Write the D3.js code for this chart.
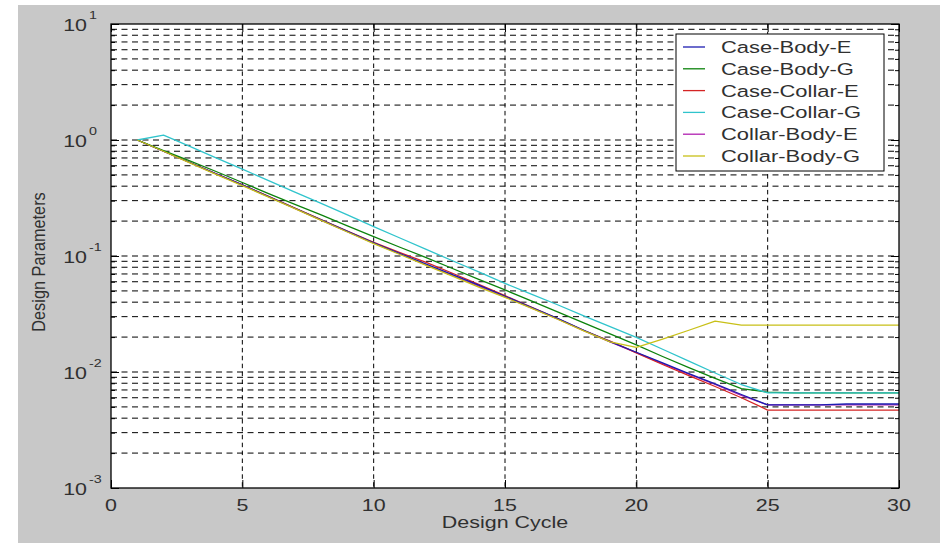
<!DOCTYPE html>
<html>
<head>
<meta charset="utf-8">
<script src="https://cdn.jsdelivr.net/npm/d3@7/dist/d3.min.js"></script>
<style>
  body { margin: 0; background: #ffffff; }
</style>
</head>
<body>
<div id="chart"></div>
<script>
'use strict';

// data, one value per design cycle
const cycles = [1, 2, 3, 4, 5, 6, 7, 8, 9, 10, 11, 12, 13, 14, 15, 16, 17, 18, 19, 20, 21, 22, 23, 24, 25, 26, 27, 28, 29, 30];

const case_body_e = [1.0, 0.80, 0.64, 0.51, 0.41, 0.325, 0.258, 0.205, 0.163, 0.130, 0.105, 0.085, 0.069, 0.056, 0.045, 0.036, 0.029, 0.0229, 0.0183, 0.0148, 0.0120, 0.0097, 0.0079, 0.0064, 0.0052, 0.0052, 0.0052, 0.0053, 0.0053, 0.0053];
const case_body_g = [1.0, 0.81, 0.66, 0.535, 0.43, 0.345, 0.279, 0.226, 0.182, 0.147, 0.119, 0.097, 0.078, 0.063, 0.051, 0.041, 0.033, 0.0265, 0.0213, 0.0171, 0.0136, 0.0109, 0.0088, 0.0072, 0.0067, 0.0066, 0.0066, 0.0066, 0.0066, 0.0066];
const case_collar_e = [1.0, 0.80, 0.64, 0.51, 0.41, 0.326, 0.259, 0.206, 0.164, 0.131, 0.107, 0.088, 0.071, 0.057, 0.0455, 0.0362, 0.0288, 0.0228, 0.0185, 0.0146, 0.0116, 0.0093, 0.0075, 0.0060, 0.0047, 0.0047, 0.0047, 0.0047, 0.0047, 0.0047];
const case_collar_g = [1.0, 1.10, 0.88, 0.70, 0.56, 0.447, 0.356, 0.284, 0.226, 0.179, 0.143, 0.114, 0.091, 0.073, 0.058, 0.047, 0.038, 0.0305, 0.0246, 0.0199, 0.0157, 0.0124, 0.0098, 0.0078, 0.0066, 0.0066, 0.0066, 0.0066, 0.0066, 0.0066];
const collar_body_e = [1.0, 0.80, 0.64, 0.51, 0.41, 0.324, 0.257, 0.204, 0.162, 0.129, 0.104, 0.084, 0.068, 0.055, 0.0445, 0.0357, 0.0287, 0.0227, 0.0182, 0.0147, 0.0118, 0.0096, 0.0078, 0.0063, 0.0052, 0.0052, 0.0052, 0.0052, 0.0052, 0.0052];
const collar_body_g = [1.0, 0.80, 0.635, 0.505, 0.405, 0.322, 0.256, 0.203, 0.161, 0.128, 0.103, 0.083, 0.067, 0.054, 0.044, 0.0355, 0.0285, 0.0226, 0.0182, 0.0163, 0.0192, 0.0229, 0.0275, 0.0254, 0.0254, 0.0254, 0.0254, 0.0254, 0.0254, 0.0254];

const series_names = ['Case-Body-E', 'Case-Body-G', 'Case-Collar-E', 'Case-Collar-G', 'Collar-Body-E', 'Collar-Body-G'];
const series_values = [case_body_e, case_body_g, case_collar_e, case_collar_g, collar_body_e, collar_body_g];
const series_colors = ['#1c1cb0', '#0c820c', '#d42424', '#30c4cc', '#b020b0', '#c8c018'];
// order the lines are drawn in (last on top)
const draw_order = [4, 2, 0, 1, 3, 5];

const x_ticks = [0, 5, 10, 15, 20, 25, 30];
const y_decades = [1e-3, 1e-2, 1e-1, 1e0, 1e1];
const y_exponents = ['-3', '-2', '-1', '0', '1'];

// layout
const dimensions = {
  width: 945,
  height: 543,
  margin: { top: 24, bottom: 55, left: 111, right: 46 }
}
dimensions.ctrWidth = dimensions.width - dimensions.margin.left - dimensions.margin.right
dimensions.ctrHeight = dimensions.height - dimensions.margin.top - dimensions.margin.bottom

const font = '"Liberation Sans", Arial, sans-serif'
const text_color = '#303030'
const stretch = 1.3   // the original text is wide, stretch it horizontally

const svg_el = d3.select('#chart')
  .append('svg')
  .attr('width', dimensions.width)
  .attr('height', dimensions.height)

// figure background
svg_el.append('rect')
  .attr('x', 18)
  .attr('y', 5)
  .attr('width', 922)
  .attr('height', 538)
  .attr('fill', '#c8c8c8')

const chart_g = svg_el.append('g')
  .attr('transform', `translate(${dimensions.margin.left}, ${dimensions.margin.top})`)

chart_g.append('rect')
  .attr('width', dimensions.ctrWidth)
  .attr('height', dimensions.ctrHeight)
  .attr('fill', '#ffffff')

// scales
const xScale = d3.scaleLinear()
  .domain([0, 30])
  .range([0, dimensions.ctrWidth])

const yScale = d3.scaleLog()
  .domain([1e-3, 1e1])
  .range([dimensions.ctrHeight, 0])

// minor log positions 1..9 x each decade
const y_minor = []
y_decades.slice(0, -1).forEach(d => {
  for (let k = 1; k <= 9; k++) y_minor.push(k * d)
})
y_minor.push(1e1)

// grid lines
chart_g.append('g')
  .selectAll('line')
  .data(y_minor.filter(v => v > 1e-3 && v < 1e1))
  .join('line')
  .attr('x1', 0)
  .attr('x2', dimensions.ctrWidth)
  .attr('y1', d => yScale(d))
  .attr('y2', d => yScale(d))
  .attr('stroke', '#000')
  .attr('stroke-width', 1)
  .attr('stroke-dasharray', '6,4.5')

chart_g.append('g')
  .selectAll('line')
  .data(x_ticks.filter(v => v > 0 && v < 30))
  .join('line')
  .attr('x1', d => xScale(d))
  .attr('x2', d => xScale(d))
  .attr('y1', 0)
  .attr('y2', dimensions.ctrHeight)
  .attr('stroke', '#000')
  .attr('stroke-width', 1)
  .attr('stroke-dasharray', '4.5,3.4')

// axes with inside ticks
const tick_axes = [
  chart_g.append('g').attr('transform', `translate(0, ${dimensions.ctrHeight})`)
    .call(d3.axisBottom(xScale).tickValues(x_ticks).tickSize(-8).tickFormat('')),
  chart_g.append('g')
    .call(d3.axisTop(xScale).tickValues(x_ticks).tickSize(-8).tickFormat('')),
  chart_g.append('g')
    .call(d3.axisLeft(yScale).tickValues(y_minor).tickSize(-4).tickFormat('')),
  chart_g.append('g')
    .call(d3.axisLeft(yScale).tickValues(y_decades).tickSize(-8).tickFormat('')),
  chart_g.append('g').attr('transform', `translate(${dimensions.ctrWidth}, 0)`)
    .call(d3.axisRight(yScale).tickValues(y_minor).tickSize(-4).tickFormat('')),
  chart_g.append('g').attr('transform', `translate(${dimensions.ctrWidth}, 0)`)
    .call(d3.axisRight(yScale).tickValues(y_decades).tickSize(-8).tickFormat(''))
]
tick_axes.forEach(g => {
  g.select('.domain').remove()
  g.selectAll('line').attr('stroke', '#000')
})

// data lines
const line = d3.line()
  .x((d, i) => xScale(cycles[i]))
  .y(d => yScale(d))

chart_g.append('g')
  .selectAll('path')
  .data(draw_order)
  .join('path')
  .attr('d', idx => line(series_values[idx]))
  .attr('fill', 'none')
  .attr('stroke', idx => series_colors[idx])
  .attr('stroke-width', 1.3)
  .attr('stroke-linejoin', 'round')

// box
chart_g.append('rect')
  .attr('width', dimensions.ctrWidth)
  .attr('height', dimensions.ctrHeight)
  .attr('fill', 'none')
  .attr('stroke', '#000')
  .attr('stroke-width', 1.3)

// x tick labels
chart_g.append('g')
  .selectAll('text')
  .data(x_ticks)
  .join('text')
  .attr('transform', d => `translate(${xScale(d)}, ${dimensions.ctrHeight + 23}) scale(${stretch},1)`)
  .attr('text-anchor', 'middle')
  .style('font-family', font)
  .style('font-size', '16.5px')
  .style('fill', text_color)
  .text(d => d)

// y tick labels 10^n
const y_label_g = chart_g.append('g')
  .selectAll('g')
  .data(y_decades)
  .join('g')
  .attr('transform', d => `translate(-24, ${yScale(d)})`)

y_label_g.append('text')
  .attr('transform', `translate(0, 6.5) scale(${stretch},1)`)
  .attr('text-anchor', 'end')
  .style('font-family', font)
  .style('font-size', '16.5px')
  .style('fill', text_color)
  .text('10')

y_label_g.append('text')
  .attr('transform', `translate(2, -5) scale(${stretch},1)`)
  .attr('text-anchor', 'start')
  .style('font-family', font)
  .style('font-size', '11px')
  .style('fill', text_color)
  .text((d, i) => y_exponents[i])

// axis titles
svg_el.append('text')
  .attr('transform', `translate(${dimensions.margin.left + dimensions.ctrWidth / 2}, 528) scale(${stretch},1)`)
  .attr('text-anchor', 'middle')
  .style('font-family', font)
  .style('font-size', '16.5px')
  .style('fill', text_color)
  .text('Design Cycle')

svg_el.append('text')
  .attr('transform', `translate(45, 262) rotate(-90) scale(1,1.12)`)
  .attr('text-anchor', 'middle')
  .style('font-family', font)
  .style('font-size', '16.3px')
  .style('fill', text_color)
  .text('Design Parameters')

// legend
const legend_g = svg_el.append('g')
  .attr('transform', 'translate(676, 34)')

legend_g.append('rect')
  .attr('width', 208)
  .attr('height', 137)
  .attr('fill', '#ffffff')
  .attr('stroke', '#000')
  .attr('stroke-width', 1)

const legend_rows = legend_g.selectAll('g')
  .data(series_names)
  .join('g')
  .attr('transform', (d, i) => `translate(0, ${13 + i * 21.8})`)

legend_rows.append('line')
  .attr('x1', 7)
  .attr('x2', 29)
  .attr('stroke', (d, i) => series_colors[i])
  .attr('stroke-width', 1.3)

legend_rows.append('text')
  .attr('transform', `translate(45, 6) scale(${stretch + 0.03},1)`)
  .style('font-family', font)
  .style('font-size', '16.5px')
  .style('fill', text_color)
  .text(d => d)
</script>
</body>
</html>
